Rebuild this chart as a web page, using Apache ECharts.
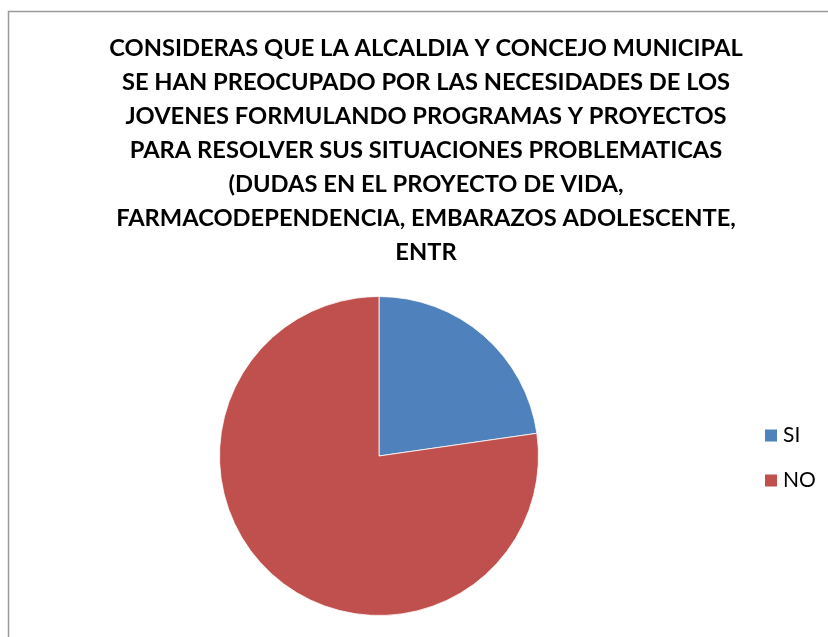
<!DOCTYPE html>
<html>
<head>
<meta charset="utf-8">
<script src="https://cdn.jsdelivr.net/npm/echarts@6/dist/echarts.min.js"></script>
<style>
  html, body { margin: 0; padding: 0; background: #fff; }
  #main { width: 828px; height: 637px; }
</style>
</head>
<body>
<div id="main"></div>
<script>
// datos de la encuesta
const categories = ['SI', 'NO'];
const values = [5, 17];
const titleLines = [
  'CONSIDERAS QUE LA ALCALDIA Y CONCEJO MUNICIPAL',
  'SE HAN PREOCUPADO POR LAS NECESIDADES DE LOS',
  'JOVENES FORMULANDO PROGRAMAS Y PROYECTOS',
  'PARA RESOLVER SUS SITUACIONES PROBLEMATICAS',
  '(DUDAS EN EL PROYECTO DE VIDA,',
  'FARMACODEPENDENCIA, EMBARAZOS ADOLESCENTE,',
  'ENTR'
];

const myChart = echarts.init(document.getElementById('main'));
const option = {
  color: ['#4F81BD', '#C0504D'],
  animation: false,
  // marco del grafico
  graphic: [{
    type: 'rect',
    shape: { x: 8.5, y: 11.5, width: 900, height: 700 },
    style: { fill: 'none', stroke: '#9a9a9a', lineWidth: 1.5 }
  }],
  title: {
    text: titleLines.join('\n'),
    left: 421,
    textAlign: 'center',
    top: 26,
    textStyle: {
      fontFamily: 'Lato',
      fontWeight: 'bold',
      fontSize: 23.7,
      lineHeight: 34,
      color: '#000'
    }
  },
  legend: {
    orient: 'vertical',
    left: 758,
    top: 420,
    icon: 'rect',
    itemWidth: 14,
    itemHeight: 14,
    itemGap: 24,
    textStyle: { fontFamily: 'Lato', fontSize: 21, color: '#000' },
    data: categories
  },
  series: [{
    type: 'pie',
    center: [379, 456],
    radius: 159.5,
    startAngle: 90,
    clockwise: true,
    label: { show: false },
    labelLine: { show: false },
    itemStyle: { borderColor: '#fff', borderWidth: 0.8 },
    data: categories.map((name, i) => ({ name: name, value: values[i] }))
  }]
};
myChart.setOption(option);
</script>
</body>
</html>
